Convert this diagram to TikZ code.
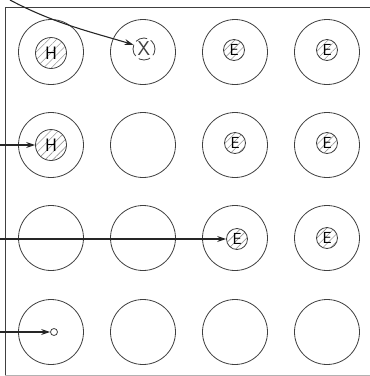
\documentclass[tikz,border=0pt]{standalone}
\usetikzlibrary{arrows.meta,patterns.meta}
\begin{document}
\begin{tikzpicture}[x=1pt,y=-1pt,
  ink/.style={draw=black!75,line width=0.8pt},
  cell/.style={ink,circle,minimum size=65pt,inner sep=0pt},
  hatched/.style={pattern={Lines[angle=45,distance=5.5pt,line width=0.6pt]},pattern color=black!40},
  hatom/.style={ink,circle,minimum size=31pt,inner sep=0pt,hatched,font=\sffamily\fontsize{18}{18}\selectfont},
  eatom/.style={ink,circle,minimum size=21pt,inner sep=0pt,hatched,font=\sffamily\fontsize{16}{16}\selectfont},
  xatom/.style={draw=black!75,line width=0.8pt,dash pattern=on 12pt off 4pt,dash phase=2pt,circle,minimum size=22pt,inner sep=0pt,font=\sffamily\fontsize{20}{20}\selectfont,text=black!75},
  dot/.style={ink,circle,minimum size=7pt,inner sep=0pt,fill=white},
  arr/.style={draw=black!85,line width=1.1pt,-{Stealth[length=9pt,width=6pt]}}
]
\useasboundingbox (0,0) rectangle (370,376);
% frame
\draw[ink] (5,376) -- (5,7) -- (370,7);
\draw[black!30,line width=0.8pt] (5,375) -- (370,375);
% outer cells
\foreach \r/\y in {1/52,2/145,3/238,4/332}{
  \foreach \c/\x in {1/51,2/143,3/235,4/327}{
    \node[cell] (c\r\c) at (\x,\y) {};
  }
}
% inner atoms
\node[hatom] (h11) at (51,53) {H};
\node[xatom] (x12) at (144,49) {X};
\node[eatom] (e13) at (234,50) {E};
\node[eatom] (e14) at (327,50) {E};
\node[hatom] (h21) at (51,145) {H};
\node[eatom] (e23) at (235,143) {E};
\node[eatom] (e24) at (327,143) {E};
\node[eatom] (e33) at (237,239) {E};
\node[eatom] (e34) at (327,238) {E};
\node[dot] (d41) at (54,332) {};
% arrow starts
\coordinate (s1) at (10,0);
\coordinate (s2) at (0,145);
\coordinate (s3) at (0,239);
\coordinate (s4) at (0,332);
% arrows
\draw[arr] (s1) .. controls (55,24) and (95,33) .. (x12.158);
\draw[arr] (s2) -- (h21.west);
\draw[arr] (s3) -- (e33.west);
\draw[arr] (s4) -- (d41.west);
\end{tikzpicture}
\end{document}
